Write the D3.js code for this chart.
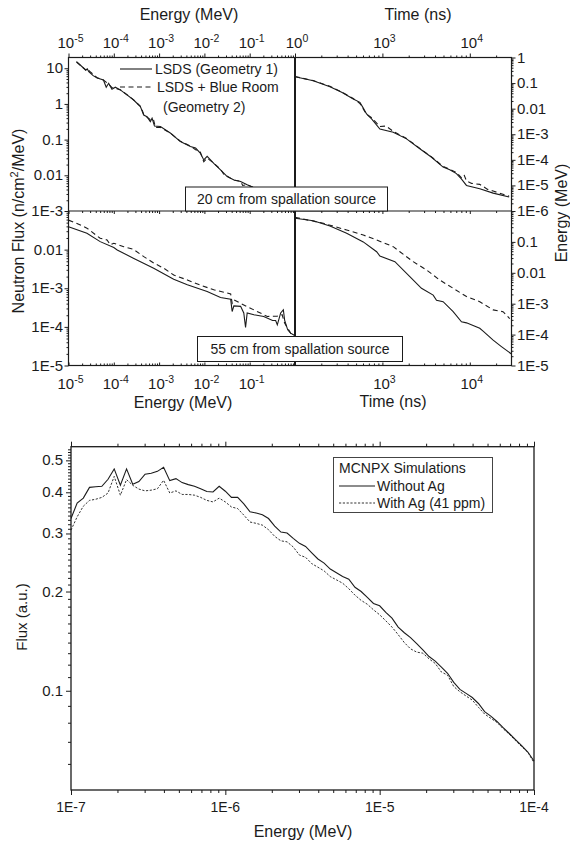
<!DOCTYPE html>
<html><head><meta charset="utf-8">
<script src="https://cdnjs.cloudflare.com/ajax/libs/d3/7.8.5/d3.min.js"></script>
<style>
body{margin:0;background:#fff;}
svg{display:block;font-family:"Liberation Sans",Arial,sans-serif;}
</style></head><body>
<svg id="c" width="570" height="845"></svg>
<script>
// ---------- upper figure: LSDS spectra at 20 cm and 55 cm ----------
// 20 cm, flux vs energy
const nearEnergyG1 = [1.5e-5,2.0e-5,2.4e-5,2.6e-5,2.8e-5,3.5e-5,4.3e-5,5.9e-5,6.8e-5,7.7e-5,9.1e-5,1.08e-4,1.39e-4,1.96e-4,2.74e-4,3.86e-4,4.57e-4,5.4e-4,6.4e-4,7.0e-4,7.9e-4,1.07e-3,1.8e-3,2.95e-3,4.9e-3,6.4e-3,8.1e-3,9.7e-3,1.15e-2,1.61e-2,2.3e-2,3.19e-2,4.5e-2,6.3e-2,8.8e-2,0.15,0.3,0.55,0.8];
const nearFluxG1   = [15.3,11,8.8,9.6,8.0,6.2,5.3,4.7,2.94,3.8,2.58,2.94,2.47,1.79,1.29,0.84,0.49,0.44,0.32,0.40,0.24,0.233,0.151,0.088,0.064,0.058,0.042,0.027,0.034,0.0217,0.014,0.0092,0.0074,0.0067,0.0054,0.0040,0.0026,0.0016,0.0011];
const nearEnergyG2 = [1.5e-5,2.4e-5,2.7e-5,2.9e-5,4.3e-5,6.0e-5,7.5e-5,9.0e-5,1.4e-4,2.74e-4,4.0e-4,4.6e-4,6.4e-4,7.5e-4,8.3e-4,1.07e-3,1.8e-3,2.95e-3,4.9e-3,6.4e-3,8.1e-3,9.7e-3,1.15e-2,1.61e-2,2.3e-2,2.7e-2,3.2e-2,4.5e-2,6.3e-2,7.0e-2,8.8e-2,0.15,0.3,0.55,0.8];
const nearFluxG2   = [15.0,9.0,9.9,8.3,5.4,4.6,3.7,2.9,2.5,1.3,0.82,0.5,0.36,0.37,0.22,0.22,0.15,0.09,0.066,0.052,0.045,0.024,0.030,0.022,0.0145,0.0105,0.0094,0.0073,0.0068,0.0052,0.0055,0.0041,0.0027,0.0016,0.0011];
// 20 cm, energy vs slowing-down time
const nearTimeG1   = [100,162,251,342,464,553,600,659,752,936,1330,1890,2680,3650,4950,5900,7030,8000,9160,13000,18500,28200];
const nearTimeE_G1 = [0.177,0.124,0.072,0.0434,0.024,0.0177,0.011,6.2e-3,4.0e-3,1.6e-3,1.2e-3,6.6e-4,2.7e-4,1.26e-4,5.2e-5,4.1e-5,2.9e-5,1.8e-5,1.0e-5,7.4e-6,5.0e-6,3.5e-6];
const nearTimeG2   = [100,162,251,342,464,553,659,752,936,1100,1330,1890,2680,3650,4950,5900,7030,8000,8600,9160,10500,13000,16000,18500,28200];
const nearTimeE_G2 = [0.18,0.125,0.075,0.045,0.025,0.016,6.0e-3,4.4e-3,2.0e-3,2.1e-3,1.3e-3,6.8e-4,2.8e-4,1.3e-4,5.5e-5,4.3e-5,3.2e-5,2.0e-5,2.6e-5,1.5e-5,1.2e-5,1.1e-5,7.0e-6,6.0e-6,3.8e-6];
// 55 cm, flux vs energy
const farEnergyG1 = [1.0e-5,2.55e-5,5.0e-5,1.0e-4,1.19e-4,2.7e-4,7.6e-4,2.1e-3,4.2e-3,1.15e-2,2.27e-2,3.8e-2,4.1e-2,4.47e-2,6.3e-2,7.4e-2,8.1e-2,8.8e-2,0.124,0.204,0.32,0.374,0.407,0.483,0.553,0.59,0.69,0.80,1.0];
const farFluxG1   = [0.039,0.0265,0.0161,0.0113,0.0098,6.0e-3,3.3e-3,1.7e-3,1.23e-3,8.2e-4,5.75e-4,5.2e-4,2.5e-4,3.5e-4,3.4e-4,2.3e-4,9.7e-5,2.3e-4,2.06e-4,1.86e-4,1.46e-4,1.46e-4,1.13e-4,2.3e-4,2.77e-4,1.5e-4,8.4e-5,6.9e-5,5.9e-5];
const farEnergyG2 = [1.0e-5,1.4e-5,2.55e-5,5.0e-5,7.1e-5,8.4e-5,1.0e-4,1.66e-4,2.7e-4,4.6e-4,7.6e-4,1.27e-3,2.1e-3,4.2e-3,8.2e-3,1.61e-2,3.2e-2,3.8e-2,4.1e-2,4.47e-2,7.4e-2,0.124,0.245,0.407,0.52,0.59,0.80,1.0];
const farFluxG2   = [0.058,0.050,0.036,0.0197,0.0178,0.0133,0.0146,0.0119,0.0102,6.6e-3,4.5e-3,3.3e-3,2.2e-3,1.64e-3,1.2e-3,9.1e-4,7.5e-4,7.1e-4,4.1e-4,5.0e-4,3.7e-4,2.75e-4,1.86e-4,1.9e-4,2.06e-4,1.25e-4,6.9e-5,5.9e-5];
// 55 cm, energy vs slowing-down time
const farTimeG1   = [100,162,251,390,604,859,936,1390,2060,2800,3810,4160,4950,6450,8030,9160,13000,14200,18500,23000,30000];
const farTimeE_G1 = [0.58,0.485,0.327,0.19,0.10,0.048,0.035,0.023,7.5e-3,3.15e-3,1.9e-3,1.3e-3,1.16e-3,5.5e-4,2.6e-4,2.4e-4,1.6e-4,1.3e-4,6.6e-5,4.1e-5,2.35e-5];
const farTimeG2   = [100,211,390,604,859,1330,1585,2250,3200,4540,6450,9160,13000,18500,24000,28600];
const farTimeE_G2 = [0.625,0.40,0.243,0.167,0.115,0.070,0.048,0.023,0.0123,5.8e-3,3.15e-3,1.7e-3,1.16e-3,6.3e-4,5.5e-4,3.3e-4];

// tick labels of the upper figure
const energyTickExp   = ["-5","-4","-3","-2","-1","0"];
const timeTickExp     = ["3","4"];
const nearFluxLabels  = ["1E-3","0.01","0.1","1","10"];
const farFluxLabels   = ["1E-5","1E-4","1E-3","0.01"];
const nearTimeELabels = ["1E-6","1E-5","1E-4","1E-3","0.01","0.1","1"];
const farTimeELabels  = ["1E-5","1E-4","1E-3","0.01","0.1"];

// ---------- lower figure: MCNPX simulated flux ----------
const mcnpxEnergy = [
 1.000e-7,1.096e-7,1.202e-7,1.318e-7,1.445e-7,1.585e-7,1.738e-7,1.905e-7,2.089e-7,2.291e-7,2.512e-7,2.754e-7,3.020e-7,3.311e-7,3.631e-7,3.981e-7,4.365e-7,4.786e-7,5.248e-7,5.754e-7,6.310e-7,6.918e-7,7.586e-7,8.318e-7,9.120e-7,
 1.000e-6,1.096e-6,1.202e-6,1.318e-6,1.445e-6,1.585e-6,1.738e-6,1.905e-6,2.089e-6,2.291e-6,2.512e-6,2.754e-6,3.020e-6,3.311e-6,3.631e-6,3.981e-6,4.365e-6,4.786e-6,5.248e-6,5.754e-6,6.310e-6,6.918e-6,7.586e-6,8.318e-6,9.120e-6,
 1.000e-5,1.096e-5,1.202e-5,1.318e-5,1.445e-5,1.585e-5,1.738e-5,1.905e-5,2.089e-5,2.291e-5,2.512e-5,2.754e-5,3.020e-5,3.311e-5,3.631e-5,3.981e-5,4.365e-5,4.786e-5,5.248e-5,5.754e-5,6.310e-5,6.918e-5,7.586e-5,8.318e-5,9.120e-5,
 1.000e-4];
const fluxWithoutAg = [
 0.333,0.371,0.384,0.414,0.416,0.417,0.438,0.471,0.420,0.471,
 0.423,0.431,0.454,0.457,0.463,0.476,0.434,0.440,0.428,0.422,
 0.417,0.410,0.402,0.401,0.417,0.403,0.386,0.386,0.369,0.349,
 0.346,0.342,0.333,0.316,0.303,0.301,0.290,0.280,0.274,0.262,
 0.251,0.244,0.234,0.228,0.222,0.218,0.206,0.200,0.192,0.184,
 0.181,0.173,0.166,0.156,0.150,0.145,0.139,0.133,0.127,0.123,
 0.118,0.113,0.106,0.101,0.0982,0.0954,0.0915,0.0864,0.0838,0.0807,
 0.0773,0.0742,0.0711,0.0682,0.0652,0.0612];
const fluxWithAg = [
 0.307,0.337,0.363,0.378,0.381,0.386,0.398,0.447,0.392,0.437,
 0.420,0.409,0.404,0.406,0.410,0.435,0.398,0.404,0.394,0.394,
 0.392,0.386,0.378,0.374,0.384,0.374,0.361,0.357,0.341,0.325,
 0.322,0.318,0.308,0.294,0.285,0.283,0.273,0.258,0.254,0.243,
 0.237,0.231,0.222,0.217,0.212,0.204,0.195,0.188,0.183,0.176,
 0.170,0.163,0.156,0.148,0.140,0.134,0.131,0.130,0.125,0.121,
 0.114,0.1115,0.103,0.0993,0.0964,0.0937,0.0891,0.0850,0.0825,0.0802,
 0.0767,0.0738,0.0706,0.0677,0.0651,0.0605];
const mcnpxXTicks  = [1e-7,1e-6,1e-5,1e-4];
const mcnpxXLabels = ["1E-7","1E-6","1E-5","1E-4"];
const mcnpxYTicks  = [0.1,0.2,0.3,0.4,0.5];
const mcnpxYLabels = ["0.1","0.2","0.3","0.4","0.5"];

// ---------- helpers ----------
const ink = "#1b1b1b";
const svg = d3.select("#c");
const TICK_FONT = 15, TITLE_FONT = 16;

function decadeMinors(lo, hi) {
  const out = [];
  for (let e = lo; e < hi; e++) for (let k = 2; k <= 9; k++) out.push(+(k * Math.pow(10, e)).toPrecision(3));
  return out;
}
function tickRow(axisFn, scale, values, size, tx, ty) {
  const g = svg.append("g").attr("transform", `translate(${tx},${ty})`)
    .call(axisFn(scale).tickValues(values).tickSize(size).tickFormat(""));
  g.select(".domain").remove();
  g.selectAll("line").attr("stroke", ink).attr("stroke-width", 1);
  return g;
}
function powLabel(x, y, exp) {
  const t = svg.append("text").attr("x", x).attr("y", y).attr("text-anchor", "middle")
    .attr("font-size", TICK_FONT).attr("fill", ink);
  t.append("tspan").text("10");
  t.append("tspan").attr("dy", -6.5).attr("font-size", 10.5).text(exp);
}
function label(x, y, txt, anchor, size) {
  return svg.append("text").attr("x", x).attr("y", y).attr("text-anchor", anchor || "middle")
    .attr("font-size", size || 14).attr("fill", ink).text(txt);
}
function zip(xs, ys) { return xs.map((x, i) => [x, ys[i]]); }

// ---------- upper figure layout ----------
const L = 68.5, M = 295, R = 511.5, T = 57.5, MID = 211, B = 365.5;
const xE = d3.scaleLog().domain([1e-5, 1]).range([L, M]);
const xT = d3.scaleLog().domain([100, 3e4]).range([M, R]);
const yNearFlux = d3.scaleLog().domain([1e-3, 20]).range([MID, T]);
const yNearE    = d3.scaleLog().domain([1e-6, 1]).range([MID, T]);
const yFarFlux  = d3.scaleLog().domain([1e-5, 0.1]).range([B, MID]);
const yFarE     = d3.scaleLog().domain([1e-5, 1]).range([B, MID]);

const defs = svg.append("defs");
function clip(id, x0, y0, x1, y1) {
  defs.append("clipPath").attr("id", id).append("rect")
    .attr("x", x0).attr("y", y0).attr("width", x1 - x0).attr("height", y1 - y0);
}
clip("cA", L, T, M, MID); clip("cB", M, T, R, MID);
clip("cC", L, MID, M, B); clip("cD", M, MID, R, B);

function curve(clipId, xs, ys, data, dash) {
  const line = d3.line().x(d => xs(d[0])).y(d => ys(d[1]));
  svg.append("path").attr("clip-path", `url(#${clipId})`).attr("d", line(data))
    .attr("fill", "none").attr("stroke", ink).attr("stroke-width", 1.1)
    .attr("stroke-dasharray", dash ? "5,3.5" : null);
}
curve("cA", xE, yNearFlux, zip(nearEnergyG1, nearFluxG1), false);
curve("cA", xE, yNearFlux, zip(nearEnergyG2, nearFluxG2), true);
curve("cB", xT, yNearE, zip(nearTimeG1, nearTimeE_G1), false);
curve("cB", xT, yNearE, zip(nearTimeG2, nearTimeE_G2), true);
curve("cC", xE, yFarFlux, zip(farEnergyG1, farFluxG1), false);
curve("cC", xE, yFarFlux, zip(farEnergyG2, farFluxG2), true);
curve("cD", xT, yFarE, zip(farTimeG1, farTimeE_G1), false);
curve("cD", xT, yFarE, zip(farTimeG2, farTimeE_G2), true);

// frame
svg.append("rect").attr("x", L).attr("y", T).attr("width", R - L).attr("height", B - T)
  .attr("fill", "none").attr("stroke", ink).attr("stroke-width", 1.2);
svg.append("line").attr("x1", L).attr("x2", R).attr("y1", MID).attr("y2", MID)
  .attr("stroke", ink).attr("stroke-width", 1.2);
svg.append("line").attr("x1", M).attr("x2", M).attr("y1", T).attr("y2", B)
  .attr("stroke", ink).attr("stroke-width", 2);

const eMajor = [1e-5, 1e-4, 1e-3, 1e-2, 1e-1, 1];
const eMinor = decadeMinors(-5, 0);
const tMajor = [1e3, 1e4];
const tMinor = decadeMinors(2, 4).filter(v => v > 100).concat([2e4]);

// top axis (outward), middle line and bottom axis (inward)
tickRow(d3.axisTop, xE, eMajor, 4, 0, T); tickRow(d3.axisTop, xE, eMinor, 2, 0, T);
tickRow(d3.axisTop, xT, tMajor, 4, 0, T); tickRow(d3.axisTop, xT, tMinor, 2, 0, T);
tickRow(d3.axisBottom, xE, eMajor, 3, 0, MID); tickRow(d3.axisBottom, xE, eMinor, 2, 0, MID);
tickRow(d3.axisBottom, xT, tMajor, 3, 0, MID); tickRow(d3.axisBottom, xT, tMinor, 2, 0, MID);
tickRow(d3.axisTop, xE, eMajor, 3, 0, B); tickRow(d3.axisTop, xE, eMinor, 2, 0, B);
tickRow(d3.axisTop, xT, tMajor, 3, 0, B); tickRow(d3.axisTop, xT, tMinor, 2, 0, B);

// left axes
tickRow(d3.axisLeft, yNearFlux, [1e-3, 1e-2, 0.1, 1, 10], 4, L, 0);
tickRow(d3.axisLeft, yNearFlux, decadeMinors(-3, 1), 2, L, 0);
tickRow(d3.axisLeft, yFarFlux, [1e-5, 1e-4, 1e-3, 1e-2], 4, L, 0);
tickRow(d3.axisLeft, yFarFlux, decadeMinors(-5, -1), 2, L, 0);
// right axes
tickRow(d3.axisRight, yNearE, [1e-6, 1e-5, 1e-4, 1e-3, 1e-2, 0.1, 1], 4, R, 0);
tickRow(d3.axisRight, yNearE, decadeMinors(-6, 0), 2, R, 0);
tickRow(d3.axisRight, yFarE, [1e-5, 1e-4, 1e-3, 1e-2, 0.1], 4, R, 0);
tickRow(d3.axisRight, yFarE, decadeMinors(-5, 0), 2, R, 0);

// tick labels
eMajor.forEach((v, i) => powLabel(xE(v) + 2, 48, energyTickExp[i]));
tMajor.forEach((v, i) => powLabel(xT(v) + 2, 48, timeTickExp[i]));
eMajor.slice(0, 5).forEach((v, i) => powLabel(xE(v) + 2, 389, energyTickExp[i]));
tMajor.forEach((v, i) => powLabel(xT(v) + 2, 389, timeTickExp[i]));
[1e-3, 1e-2, 0.1, 1, 10].forEach((v, i) => label(63, yNearFlux(v) + 5, nearFluxLabels[i], "end", TICK_FONT));
[1e-5, 1e-4, 1e-3, 1e-2].forEach((v, i) => label(63, yFarFlux(v) + 5, farFluxLabels[i], "end", TICK_FONT));
[1e-6, 1e-5, 1e-4, 1e-3, 1e-2, 0.1, 1].forEach((v, i) => label(517, yNearE(v) + 5, nearTimeELabels[i], "start", TICK_FONT));
[1e-5, 1e-4, 1e-3, 1e-2, 0.1].forEach((v, i) => label(517, yFarE(v) + 5, farTimeELabels[i], "start", TICK_FONT));

// axis titles
label(189, 20, "Energy (MeV)", "middle", TITLE_FONT);
label(418, 20, "Time (ns)", "middle", TITLE_FONT);
label(183, 408, "Energy (MeV)", "middle", TITLE_FONT);
label(393, 407, "Time (ns)", "middle", TITLE_FONT);
const lt = svg.append("text").attr("transform", "translate(24,221) rotate(-90)")
  .attr("text-anchor", "middle").attr("font-size", TITLE_FONT).attr("fill", ink);
lt.append("tspan").text("Neutron Flux (n/cm");
lt.append("tspan").attr("dy", -6).attr("font-size", 11).text("2");
lt.append("tspan").attr("dy", 6).text("/MeV)");
svg.append("text").attr("transform", "translate(567,213) rotate(-90)")
  .attr("text-anchor", "middle").attr("font-size", TITLE_FONT).attr("fill", ink).text("Energy (MeV)");

// legend of the upper figure
svg.append("line").attr("x1", 120).attr("x2", 152).attr("y1", 69).attr("y2", 69).attr("stroke", ink).attr("stroke-width", 1.1);
svg.append("line").attr("x1", 120).attr("x2", 152).attr("y1", 87).attr("y2", 87).attr("stroke", ink)
  .attr("stroke-width", 1.1).attr("stroke-dasharray", "5,3.5");
label(155, 74, "LSDS (Geometry 1)", "start");
label(157, 92, "LSDS + Blue Room", "start");
label(163, 112, "(Geometry 2)", "start");

// distance boxes
function tagBox(x, y, w, h, txt) {
  svg.append("rect").attr("x", x).attr("y", y).attr("width", w).attr("height", h)
    .attr("fill", "#fff").attr("stroke", ink).attr("stroke-width", 1);
  label(x + w / 2, y + h / 2 + 5, txt);
}
tagBox(185.5, 187, 202, 24, "20 cm from spallation source");
tagBox(197.5, 336.5, 205, 25, "55 cm from spallation source");

// ---------- lower figure ----------
const bx0 = 71, bx1 = 534, by0 = 446.7, by1 = 790;
const xM = d3.scaleLog().domain([1e-7, 1e-4]).range([bx0, bx1]);
const yM = d3.scaleLog().domain([0.05, 0.55]).range([by1, by0]);
const mLine = d3.line().x(d => xM(d[0])).y(d => yM(d[1]));
svg.append("path").attr("d", mLine(zip(mcnpxEnergy, fluxWithoutAg)))
  .attr("fill", "none").attr("stroke", ink).attr("stroke-width", 1.1);
svg.append("path").attr("d", mLine(zip(mcnpxEnergy, fluxWithAg)))
  .attr("fill", "none").attr("stroke", ink).attr("stroke-width", 0.9).attr("stroke-dasharray", "2.2,1.6");

svg.append("rect").attr("x", bx0).attr("y", by0).attr("width", bx1 - bx0).attr("height", by1 - by0)
  .attr("fill", "none").attr("stroke", ink).attr("stroke-width", 1.3);

const mXMinor = decadeMinors(-7, -4);
tickRow(d3.axisBottom, xM, mcnpxXTicks, 5, 0, by1); tickRow(d3.axisBottom, xM, mXMinor, 3, 0, by1);
tickRow(d3.axisTop, xM, mcnpxXTicks, 5, 0, by0); tickRow(d3.axisTop, xM, mXMinor, 3, 0, by0);
const mYMinor = d3.range(6, 55).map(k => k / 100).filter(v => !mcnpxYTicks.includes(v));
tickRow(d3.axisLeft, yM, mcnpxYTicks, 5, bx0, 0);
tickRow(d3.axisLeft, yM, mYMinor, 3, bx0, 0);

mcnpxXTicks.forEach((v, i) => label(xM(v), 812, mcnpxXLabels[i], "middle", 14));
mcnpxYTicks.forEach((v, i) => label(63, yM(v) + 5, mcnpxYLabels[i], "end", TICK_FONT));
label(303, 837, "Energy (MeV)", "middle", TITLE_FONT);
svg.append("text").attr("transform", "translate(27,617) rotate(-90)")
  .attr("text-anchor", "middle").attr("font-size", 15).attr("fill", ink).text("Flux (a.u.)");

// legend of the lower figure
svg.append("rect").attr("x", 333.5).attr("y", 457.5).attr("width", 159).attr("height", 55)
  .attr("fill", "#fff").attr("stroke", "#444").attr("stroke-width", 1);
label(339, 473, "MCNPX Simulations", "start");
svg.append("line").attr("x1", 339).attr("x2", 375).attr("y1", 486).attr("y2", 486).attr("stroke", ink).attr("stroke-width", 1.1);
label(377, 491, "Without Ag", "start");
svg.append("line").attr("x1", 339).attr("x2", 375).attr("y1", 503).attr("y2", 503).attr("stroke", ink)
  .attr("stroke-width", 0.9).attr("stroke-dasharray", "2.2,1.6");
label(377, 508, "With Ag (41 ppm)", "start");
</script>
</body></html>
